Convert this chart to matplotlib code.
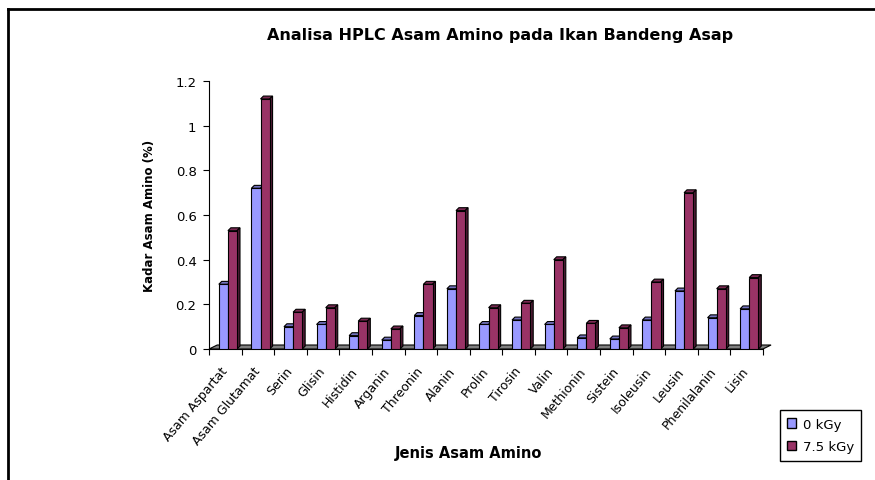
import matplotlib.pyplot as plt
from matplotlib.patches import Patch, Polygon
from matplotlib.lines import Line2D
import numpy as np

# Amino acid data
categories = ["Asam Aspartat", "Asam Glutamat", "Serin", "Glisin", "Histidin",
              "Arganin", "Threonin", "Alanin", "Prolin", "Tirosin", "Valin",
              "Methionin", "Sistein", "Isoleusin", "Leusin", "Phenilalanin", "Lisin"]
kgy_0 = [0.29, 0.72, 0.10, 0.11, 0.06, 0.04, 0.15, 0.27, 0.11, 0.13,
         0.11, 0.05, 0.045, 0.13, 0.26, 0.14, 0.18]
kgy_75 = [0.53, 1.12, 0.165, 0.185, 0.125, 0.09, 0.29, 0.62, 0.185, 0.205,
          0.40, 0.115, 0.095, 0.30, 0.70, 0.27, 0.32]
series_names = ["0 kGy", "7.5 kGy"]
y_ticks = [0, 0.2, 0.4, 0.6, 0.8, 1, 1.2]

plt.rcParams["font.family"] = ["DejaVu Sans"]

fig = plt.figure(figsize=(8.75, 4.81), dpi=100)
ax = fig.add_axes([0.2389, 0.2723, 0.633, 0.557])

x = np.arange(len(categories))
width = 0.28
dx, dy = 0.09, 0.013  # depth of each bar
fdx, fdy = 0.25, 0.018  # depth of the floor

styles = [
    ("#9999FF", "#7373C0", "#4D4D80", -0.2),
    ("#993366", "#7A2952", "#4D1A33", -0.2 + width),
]

# floor
floor = Polygon([(-0.5, 0), (-0.5 + fdx, fdy), (len(categories) - 0.5 + fdx, fdy),
                 (len(categories) - 0.5, 0)], closed=True, facecolor="#808080",
                edgecolor="black", linewidth=0.8, zorder=1, clip_on=False)
ax.add_patch(floor)

for vals, (front, top, side, off) in zip([kgy_0, kgy_75], styles):
    for xi, h in zip(x, vals):
        x0 = xi + off
        ax.add_patch(Polygon([(x0, h), (x0 + dx, h + dy), (x0 + width + dx, h + dy), (x0 + width, h)],
                             closed=True, facecolor=top, edgecolor="black", linewidth=0.8,
                             zorder=2, clip_on=False))
        ax.add_patch(Polygon([(x0 + width, 0), (x0 + width + dx, dy), (x0 + width + dx, h + dy),
                              (x0 + width, h)], closed=True, facecolor=side, edgecolor="black",
                             linewidth=0.8, zorder=2, clip_on=False))
    ax.bar(x + off, vals, width=width, align="edge", color=front, edgecolor="black",
           linewidth=0.8, zorder=3)

ax.set_xlim(-0.5, len(categories) - 0.5)
ax.set_ylim(0, 1.2)
ax.set_yticks(y_ticks)
ax.set_yticklabels(["0", "0.2", "0.4", "0.6", "0.8", "1", "1.2"], fontsize=9.5)
ax.tick_params(axis="y", direction="out", length=4, width=0.8, pad=5)

ax.set_xticks(x)
ax.set_xticklabels(categories, rotation=50, ha="right", va="center",
                   rotation_mode="anchor", fontsize=9)
ax.tick_params(axis="x", length=0, pad=14)
ax.set_xticks(np.arange(-0.5, len(categories)), minor=True)
ax.tick_params(axis="x", which="minor", direction="out", length=4, width=0.8)

for s in ["top", "right"]:
    ax.spines[s].set_visible(False)
ax.spines["left"].set_linewidth(0.8)
ax.spines["bottom"].set_linewidth(0.8)

ax.set_ylabel("Kadar Asam Amino (%)", fontsize=8.5, fontweight="bold", labelpad=14)
fig.text(0.535, 0.058, "Jenis Asam Amino", ha="center", va="center",
         fontsize=10.5, fontweight="bold")
fig.text(0.571, 0.927, "Analisa HPLC Asam Amino pada Ikan Bandeng Asap", ha="center",
         va="center", fontsize=11.5, fontweight="bold")

handles = [Patch(facecolor="#9999FF", edgecolor="black"),
           Patch(facecolor="#993366", edgecolor="black")]
leg = fig.legend(handles, series_names, loc="upper left", bbox_to_anchor=(0.891, 0.145),
                 fontsize=9.5, frameon=True, fancybox=False, edgecolor="black",
                 framealpha=1, handlelength=0.7, handleheight=0.7, handletextpad=0.5,
                 borderpad=0.55, labelspacing=0.75, borderaxespad=0)
leg.get_frame().set_linewidth(1.0)

# chart frame (only top and left edges visible)
fig.add_artist(Line2D([0.0097, 0.0097], [0, 0.979], color="black", linewidth=2))
fig.add_artist(Line2D([0.0097, 1.0], [0.979, 0.979], color="black", linewidth=2))

fig.savefig("out.png", dpi=100)
